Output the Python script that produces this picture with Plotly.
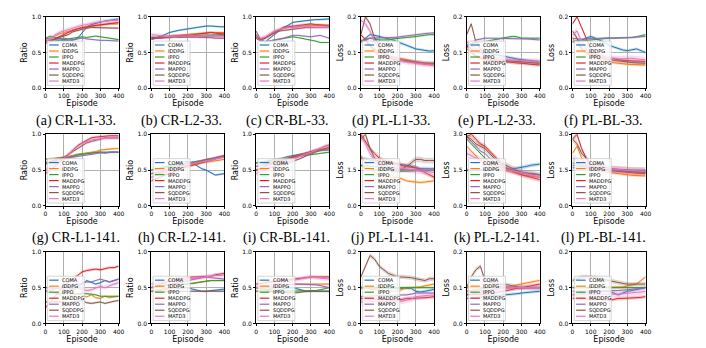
import plotly.graph_objects as go

EPISODES = [0, 25, 50, 75, 100, 125, 150, 175, 200, 225, 250, 275, 300, 325, 350, 375, 400]
ALGOS = ["COMA", "IDDPG", "IPPO", "MADDPG", "MAPPO", "SQDDPG", "MATD3"]
COLORS = ["#1f77b4", "#ff7f0e", "#2ca02c", "#d62728", "#9467bd", "#8c564b", "#e377c2"]

CAPTIONS = ["(a) CR-L1-33.", "(b) CR-L2-33.", "(c) CR-BL-33.", "(d) PL-L1-33.", "(e) PL-L2-33.", "(f) PL-BL-33.",
            "(g) CR-L1-141.", "(h) CR-L2-141.", "(i) CR-BL-141.", "(j) PL-L1-141.", "(k) PL-L2-141.", "(l) PL-BL-141."]
X_TICKS = [0, 100, 200, 300, 400]
RATIO_TICKS = [0.0, 0.5, 1.0]
LOSS_TICKS_SMALL = [0.0, 0.1, 0.2]
LOSS_TICKS_LARGE = [0.0, 1.5, 3.0]

# ---------------- row 1 ----------------
CR_L1_33 = {
    "COMA":   [0.67, 0.66, 0.66, 0.67, 0.67, 0.67, 0.67, 0.70, 0.78, 0.85, 0.89, 0.91, 0.93, 0.94, 0.95, 0.96, 0.97],
    "IDDPG":  [0.68, 0.70, 0.73, 0.76, 0.78, 0.80, 0.82, 0.84, 0.85, 0.86, 0.87, 0.88, 0.89, 0.89, 0.90, 0.90, 0.90],
    "IPPO":   [0.70, 0.73, 0.71, 0.69, 0.68, 0.69, 0.70, 0.71, 0.72, 0.71, 0.72, 0.73, 0.72, 0.71, 0.70, 0.69, 0.68],
    "MADDPG": [0.63, 0.66, 0.70, 0.73, 0.76, 0.79, 0.81, 0.83, 0.85, 0.86, 0.87, 0.88, 0.89, 0.90, 0.91, 0.91, 0.92],
    "MAPPO":  [0.70, 0.69, 0.68, 0.69, 0.70, 0.69, 0.68, 0.69, 0.70, 0.69, 0.68, 0.68, 0.67, 0.67, 0.67, 0.66, 0.66],
    "SQDDPG": [0.65, 0.67, 0.69, 0.71, 0.72, 0.75, 0.79, 0.81, 0.83, 0.84, 0.85, 0.85, 0.85, 0.85, 0.84, 0.84, 0.84],
    "MATD3":  [0.65, 0.70, 0.74, 0.78, 0.80, 0.83, 0.85, 0.87, 0.88, 0.89, 0.91, 0.92, 0.93, 0.94, 0.94, 0.95, 0.95],
}
CR_L2_33 = {
    "COMA":   [0.68, 0.70, 0.72, 0.75, 0.78, 0.80, 0.81, 0.82, 0.83, 0.85, 0.86, 0.87, 0.87, 0.87, 0.86, 0.86, 0.86],
    "IDDPG":  [0.70, 0.71, 0.72, 0.72, 0.73, 0.74, 0.74, 0.75, 0.75, 0.76, 0.76, 0.77, 0.77, 0.78, 0.78, 0.78, 0.78],
    "IPPO":   [0.70, 0.70, 0.71, 0.71, 0.72, 0.72, 0.72, 0.73, 0.72, 0.73, 0.74, 0.74, 0.74, 0.75, 0.75, 0.75, 0.75],
    "MADDPG": [0.70, 0.71, 0.72, 0.72, 0.72, 0.73, 0.73, 0.74, 0.74, 0.75, 0.76, 0.77, 0.78, 0.78, 0.77, 0.77, 0.76],
    "MAPPO":  [0.72, 0.71, 0.70, 0.71, 0.72, 0.72, 0.71, 0.72, 0.72, 0.72, 0.73, 0.72, 0.73, 0.73, 0.73, 0.74, 0.74],
    "SQDDPG": [0.70, 0.70, 0.71, 0.70, 0.71, 0.72, 0.72, 0.72, 0.72, 0.71, 0.72, 0.72, 0.71, 0.71, 0.70, 0.70, 0.70],
    "MATD3":  [0.75, 0.74, 0.73, 0.72, 0.72, 0.73, 0.73, 0.74, 0.74, 0.73, 0.73, 0.74, 0.73, 0.72, 0.72, 0.72, 0.72],
}
CR_BL_33 = {
    "COMA":   [0.70, 0.66, 0.65, 0.70, 0.75, 0.80, 0.85, 0.88, 0.92, 0.93, 0.94, 0.95, 0.95, 0.96, 0.96, 0.96, 0.97],
    "IDDPG":  [0.70, 0.68, 0.71, 0.76, 0.80, 0.82, 0.84, 0.85, 0.85, 0.86, 0.87, 0.87, 0.88, 0.88, 0.88, 0.87, 0.87],
    "IPPO":   [0.75, 0.68, 0.65, 0.66, 0.67, 0.68, 0.70, 0.71, 0.72, 0.71, 0.70, 0.69, 0.68, 0.66, 0.64, 0.64, 0.64],
    "MADDPG": [0.72, 0.68, 0.70, 0.74, 0.78, 0.82, 0.85, 0.86, 0.87, 0.88, 0.88, 0.89, 0.90, 0.89, 0.89, 0.88, 0.88],
    "MAPPO":  [0.75, 0.66, 0.65, 0.66, 0.67, 0.68, 0.70, 0.72, 0.74, 0.74, 0.73, 0.72, 0.72, 0.73, 0.74, 0.72, 0.70],
    "SQDDPG": [0.80, 0.68, 0.70, 0.74, 0.78, 0.80, 0.81, 0.82, 0.82, 0.83, 0.84, 0.85, 0.85, 0.85, 0.85, 0.85, 0.85],
    "MATD3":  [0.75, 0.70, 0.72, 0.76, 0.80, 0.82, 0.84, 0.85, 0.85, 0.86, 0.86, 0.86, 0.86, 0.86, 0.85, 0.85, 0.85],
}
PL_L1_33 = {
    "COMA":   [0.130, 0.140, 0.150, 0.148, 0.145, 0.142, 0.140, 0.135, 0.130, 0.125, 0.120, 0.115, 0.110, 0.108, 0.105, 0.104, 0.105],
    "IDDPG":  [0.135, 0.130, 0.120, 0.110, 0.100, 0.095, 0.090, 0.087, 0.085, 0.082, 0.078, 0.075, 0.073, 0.070, 0.068, 0.066, 0.065],
    "IPPO":   [0.130, 0.135, 0.140, 0.138, 0.135, 0.135, 0.135, 0.138, 0.140, 0.140, 0.142, 0.143, 0.145, 0.146, 0.148, 0.150, 0.150],
    "MADDPG": [0.150, 0.135, 0.120, 0.105, 0.090, 0.086, 0.083, 0.081, 0.080, 0.078, 0.075, 0.073, 0.070, 0.069, 0.068, 0.068, 0.068],
    "MAPPO":  [0.130, 0.138, 0.140, 0.140, 0.140, 0.140, 0.140, 0.142, 0.143, 0.145, 0.145, 0.147, 0.150, 0.152, 0.153, 0.154, 0.155],
    "SQDDPG": [0.150, 0.200, 0.180, 0.140, 0.120, 0.100, 0.090, 0.085, 0.080, 0.078, 0.076, 0.075, 0.073, 0.072, 0.071, 0.070, 0.070],
    "MATD3":  [0.190, 0.180, 0.160, 0.130, 0.110, 0.100, 0.090, 0.085, 0.080, 0.077, 0.074, 0.072, 0.070, 0.068, 0.067, 0.066, 0.065],
}
PL_L2_33 = {
    "COMA":   [0.120, 0.110, 0.100, 0.100, 0.100, 0.098, 0.095, 0.092, 0.090, 0.087, 0.085, 0.082, 0.080, 0.078, 0.077, 0.076, 0.075],
    "IDDPG":  [0.110, 0.100, 0.090, 0.086, 0.082, 0.080, 0.079, 0.078, 0.076, 0.075, 0.074, 0.073, 0.072, 0.071, 0.070, 0.070, 0.070],
    "IPPO":   [0.120, 0.125, 0.128, 0.130, 0.130, 0.133, 0.136, 0.139, 0.140, 0.143, 0.145, 0.144, 0.140, 0.140, 0.140, 0.140, 0.140],
    "MADDPG": [0.120, 0.100, 0.090, 0.085, 0.080, 0.078, 0.076, 0.075, 0.075, 0.073, 0.072, 0.071, 0.070, 0.068, 0.067, 0.066, 0.065],
    "MAPPO":  [0.120, 0.125, 0.135, 0.138, 0.140, 0.140, 0.140, 0.140, 0.140, 0.140, 0.140, 0.140, 0.140, 0.138, 0.137, 0.136, 0.135],
    "SQDDPG": [0.150, 0.180, 0.130, 0.110, 0.090, 0.085, 0.082, 0.080, 0.078, 0.077, 0.076, 0.075, 0.074, 0.073, 0.072, 0.071, 0.070],
    "MATD3":  [0.130, 0.120, 0.110, 0.100, 0.090, 0.086, 0.083, 0.080, 0.080, 0.079, 0.078, 0.078, 0.078, 0.077, 0.076, 0.076, 0.075],
}
PL_BL_33 = {
    "COMA":   [0.130, 0.132, 0.135, 0.140, 0.145, 0.140, 0.135, 0.128, 0.120, 0.115, 0.110, 0.107, 0.105, 0.108, 0.110, 0.105, 0.100],
    "IDDPG":  [0.140, 0.125, 0.110, 0.100, 0.090, 0.085, 0.080, 0.076, 0.073, 0.071, 0.070, 0.068, 0.067, 0.066, 0.066, 0.065, 0.065],
    "IPPO":   [0.130, 0.132, 0.133, 0.134, 0.135, 0.137, 0.138, 0.139, 0.140, 0.140, 0.140, 0.140, 0.140, 0.142, 0.144, 0.147, 0.150],
    "MADDPG": [0.180, 0.200, 0.170, 0.140, 0.110, 0.095, 0.090, 0.087, 0.085, 0.082, 0.080, 0.078, 0.077, 0.076, 0.075, 0.075, 0.075],
    "MAPPO":  [0.140, 0.138, 0.137, 0.138, 0.140, 0.139, 0.140, 0.140, 0.141, 0.140, 0.140, 0.141, 0.140, 0.142, 0.143, 0.144, 0.145],
    "SQDDPG": [0.160, 0.140, 0.110, 0.100, 0.095, 0.090, 0.085, 0.082, 0.080, 0.078, 0.076, 0.074, 0.073, 0.072, 0.071, 0.070, 0.070],
    "MATD3":  [0.150, 0.160, 0.130, 0.110, 0.100, 0.092, 0.090, 0.087, 0.085, 0.083, 0.082, 0.083, 0.085, 0.084, 0.082, 0.081, 0.080],
}
# ---------------- row 2 ----------------
CR_L1_141 = {
    "COMA":   [0.65, 0.66, 0.66, 0.67, 0.67, 0.68, 0.70, 0.72, 0.73, 0.74, 0.75, 0.75, 0.75, 0.74, 0.75, 0.75, 0.75],
    "IDDPG":  [0.65, 0.65, 0.66, 0.67, 0.68, 0.69, 0.70, 0.72, 0.73, 0.74, 0.75, 0.76, 0.78, 0.79, 0.79, 0.80, 0.80],
    "IPPO":   [0.58, 0.60, 0.62, 0.63, 0.65, 0.67, 0.69, 0.71, 0.72, 0.73, 0.74, 0.75, 0.75, 0.75, 0.75, 0.75, 0.75],
    "MADDPG": [0.45, 0.50, 0.55, 0.60, 0.65, 0.72, 0.78, 0.84, 0.88, 0.92, 0.95, 0.96, 0.97, 0.97, 0.98, 0.98, 0.98],
    "MAPPO":  [0.60, 0.61, 0.62, 0.64, 0.65, 0.67, 0.68, 0.70, 0.71, 0.72, 0.72, 0.73, 0.74, 0.74, 0.75, 0.75, 0.75],
    "SQDDPG": [0.60, 0.62, 0.64, 0.66, 0.68, 0.72, 0.76, 0.80, 0.84, 0.88, 0.90, 0.92, 0.94, 0.95, 0.95, 0.95, 0.95],
    "MATD3":  [0.50, 0.55, 0.58, 0.62, 0.66, 0.72, 0.78, 0.83, 0.87, 0.90, 0.92, 0.93, 0.94, 0.95, 0.95, 0.95, 0.95],
}
CR_L2_141 = {
    "COMA":   [0.50, 0.52, 0.54, 0.55, 0.56, 0.58, 0.60, 0.62, 0.62, 0.60, 0.56, 0.52, 0.50, 0.46, 0.43, 0.44, 0.45],
    "IDDPG":  [0.45, 0.46, 0.48, 0.50, 0.51, 0.52, 0.54, 0.55, 0.56, 0.57, 0.58, 0.60, 0.61, 0.62, 0.63, 0.64, 0.65],
    "IPPO":   [0.50, 0.51, 0.52, 0.54, 0.55, 0.56, 0.57, 0.58, 0.60, 0.61, 0.62, 0.64, 0.65, 0.66, 0.67, 0.68, 0.70],
    "MADDPG": [0.35, 0.38, 0.40, 0.43, 0.45, 0.48, 0.50, 0.53, 0.55, 0.57, 0.59, 0.61, 0.62, 0.64, 0.66, 0.68, 0.70],
    "MAPPO":  [0.40, 0.43, 0.45, 0.48, 0.50, 0.53, 0.55, 0.58, 0.60, 0.61, 0.61, 0.62, 0.62, 0.64, 0.66, 0.67, 0.68],
    "SQDDPG": [0.45, 0.46, 0.47, 0.48, 0.50, 0.52, 0.54, 0.56, 0.58, 0.60, 0.62, 0.64, 0.65, 0.66, 0.68, 0.69, 0.70],
    "MATD3":  [0.40, 0.42, 0.45, 0.48, 0.50, 0.52, 0.55, 0.57, 0.58, 0.59, 0.60, 0.61, 0.62, 0.64, 0.66, 0.67, 0.68],
}
CR_BL_141 = {
    "COMA":   [0.60, 0.61, 0.62, 0.64, 0.65, 0.66, 0.67, 0.69, 0.70, 0.72, 0.73, 0.74, 0.75, 0.77, 0.78, 0.79, 0.80],
    "IDDPG":  [0.55, 0.57, 0.59, 0.61, 0.62, 0.64, 0.66, 0.67, 0.68, 0.70, 0.72, 0.74, 0.75, 0.77, 0.78, 0.79, 0.80],
    "IPPO":   [0.60, 0.60, 0.61, 0.62, 0.62, 0.63, 0.65, 0.67, 0.68, 0.69, 0.70, 0.71, 0.72, 0.73, 0.74, 0.74, 0.75],
    "MADDPG": [0.50, 0.53, 0.55, 0.58, 0.60, 0.62, 0.64, 0.66, 0.68, 0.70, 0.72, 0.73, 0.75, 0.78, 0.80, 0.83, 0.85],
    "MAPPO":  [0.55, 0.56, 0.58, 0.59, 0.60, 0.61, 0.62, 0.64, 0.65, 0.68, 0.70, 0.72, 0.75, 0.76, 0.77, 0.78, 0.78],
    "SQDDPG": [0.50, 0.51, 0.52, 0.54, 0.55, 0.57, 0.58, 0.60, 0.62, 0.64, 0.67, 0.70, 0.72, 0.75, 0.78, 0.80, 0.82],
    "MATD3":  [0.45, 0.48, 0.50, 0.53, 0.55, 0.58, 0.60, 0.62, 0.65, 0.68, 0.70, 0.73, 0.75, 0.78, 0.80, 0.83, 0.85],
}
PL_L1_141 = {
    "COMA":   [2.00, 1.95, 1.92, 1.90, 1.90, 1.86, 1.82, 1.78, 1.75, 1.72, 1.70, 1.65, 1.58, 1.56, 1.56, 1.55, 1.55],
    "IDDPG":  [2.10, 1.80, 1.55, 1.40, 1.30, 1.25, 1.22, 1.20, 1.20, 1.12, 1.05, 1.02, 1.00, 0.98, 1.00, 1.02, 1.05],
    "IPPO":   [1.70, 1.60, 1.55, 1.50, 1.50, 1.48, 1.47, 1.46, 1.45, 1.45, 1.45, 1.45, 1.46, 1.47, 1.48, 1.49, 1.50],
    "MADDPG": [3.00, 2.70, 2.40, 2.20, 2.00, 1.90, 1.85, 1.78, 1.72, 1.68, 1.65, 1.62, 1.60, 1.50, 1.40, 1.30, 1.20],
    "MAPPO":  [1.70, 1.68, 1.65, 1.62, 1.60, 1.58, 1.56, 1.55, 1.55, 1.53, 1.52, 1.51, 1.50, 1.50, 1.50, 1.50, 1.50],
    "SQDDPG": [2.80, 3.00, 2.40, 2.00, 1.70, 1.60, 1.55, 1.52, 1.50, 1.55, 1.65, 1.80, 1.95, 1.95, 1.90, 1.90, 1.90],
    "MATD3":  [2.90, 2.60, 2.20, 1.90, 1.80, 1.70, 1.65, 1.62, 1.60, 1.58, 1.55, 1.52, 1.50, 1.47, 1.45, 1.42, 1.40],
}
PL_L2_141 = {
    "COMA":   [1.50, 1.50, 1.50, 1.50, 1.50, 1.50, 1.50, 1.50, 1.50, 1.52, 1.55, 1.58, 1.60, 1.65, 1.70, 1.72, 1.75],
    "IDDPG":  [2.50, 2.30, 2.10, 1.90, 1.80, 1.70, 1.60, 1.55, 1.50, 1.45, 1.40, 1.35, 1.30, 1.27, 1.25, 1.22, 1.20],
    "IPPO":   [2.80, 2.60, 2.40, 2.20, 2.00, 1.85, 1.75, 1.65, 1.60, 1.55, 1.50, 1.45, 1.40, 1.37, 1.35, 1.32, 1.30],
    "MADDPG": [2.90, 3.00, 2.80, 2.60, 2.50, 2.30, 2.10, 1.90, 1.70, 1.55, 1.45, 1.38, 1.30, 1.25, 1.20, 1.15, 1.10],
    "MAPPO":  [2.90, 2.70, 2.50, 2.30, 2.20, 2.00, 1.85, 1.75, 1.65, 1.55, 1.50, 1.45, 1.40, 1.37, 1.35, 1.32, 1.30],
    "SQDDPG": [2.90, 2.80, 2.60, 2.50, 2.40, 2.20, 2.00, 1.85, 1.75, 1.65, 1.55, 1.48, 1.40, 1.37, 1.35, 1.32, 1.30],
    "MATD3":  [2.20, 2.10, 2.00, 1.90, 1.80, 1.72, 1.65, 1.60, 1.55, 1.50, 1.45, 1.42, 1.40, 1.35, 1.30, 1.25, 1.20],
}
PL_BL_141 = {
    "COMA":   [1.60, 1.58, 1.57, 1.56, 1.55, 1.54, 1.52, 1.51, 1.50, 1.48, 1.47, 1.46, 1.45, 1.44, 1.42, 1.41, 1.40],
    "IDDPG":  [2.20, 2.50, 2.00, 1.70, 1.60, 1.50, 1.45, 1.42, 1.40, 1.37, 1.35, 1.32, 1.30, 1.28, 1.27, 1.26, 1.25],
    "IPPO":   [1.80, 1.75, 1.70, 1.65, 1.60, 1.57, 1.55, 1.52, 1.50, 1.49, 1.48, 1.47, 1.45, 1.44, 1.42, 1.41, 1.40],
    "MADDPG": [2.80, 3.00, 2.40, 2.00, 1.70, 1.62, 1.58, 1.54, 1.50, 1.47, 1.45, 1.43, 1.40, 1.38, 1.37, 1.36, 1.35],
    "MAPPO":  [1.70, 1.68, 1.65, 1.62, 1.60, 1.57, 1.55, 1.52, 1.50, 1.50, 1.50, 1.50, 1.50, 1.48, 1.47, 1.46, 1.45],
    "SQDDPG": [2.80, 2.60, 2.20, 2.00, 1.70, 1.80, 1.70, 1.62, 1.55, 1.55, 1.53, 1.52, 1.50, 1.50, 1.50, 1.50, 1.50],
    "MATD3":  [2.00, 1.90, 1.80, 1.75, 1.70, 1.65, 1.60, 1.57, 1.55, 1.53, 1.52, 1.51, 1.50, 1.48, 1.47, 1.46, 1.45],
}
# ---------------- row 3 ----------------
CR_L1_R3 = {
    "COMA":   [0.50, 0.50, 0.48, 0.50, 0.52, 0.50, 0.48, 0.52, 0.55, 0.60, 0.58, 0.55, 0.57, 0.60, 0.58, 0.60, 0.62],
    "IDDPG":  [0.45, 0.44, 0.42, 0.40, 0.42, 0.40, 0.38, 0.42, 0.40, 0.37, 0.40, 0.36, 0.35, 0.38, 0.36, 0.37, 0.38],
    "IPPO":   [0.45, 0.44, 0.43, 0.42, 0.43, 0.42, 0.42, 0.41, 0.42, 0.42, 0.41, 0.40, 0.38, 0.38, 0.38, 0.38, 0.38],
    "MADDPG": [0.22, 0.30, 0.38, 0.45, 0.52, 0.58, 0.63, 0.67, 0.72, 0.74, 0.75, 0.76, 0.75, 0.77, 0.78, 0.78, 0.80],
    "MAPPO":  [0.45, 0.47, 0.48, 0.50, 0.50, 0.52, 0.53, 0.55, 0.56, 0.58, 0.58, 0.60, 0.62, 0.60, 0.58, 0.60, 0.62],
    "SQDDPG": [0.30, 0.30, 0.31, 0.30, 0.30, 0.29, 0.30, 0.31, 0.32, 0.29, 0.28, 0.29, 0.30, 0.28, 0.30, 0.31, 0.32],
    "MATD3":  [0.45, 0.47, 0.48, 0.50, 0.48, 0.46, 0.48, 0.50, 0.48, 0.46, 0.47, 0.50, 0.52, 0.50, 0.53, 0.55, 0.57],
}
CR_L2_R3 = {
    "COMA":   [0.45, 0.46, 0.47, 0.48, 0.50, 0.50, 0.49, 0.50, 0.50, 0.48, 0.46, 0.45, 0.45, 0.46, 0.47, 0.48, 0.48],
    "IDDPG":  [0.45, 0.46, 0.47, 0.48, 0.50, 0.51, 0.52, 0.54, 0.55, 0.56, 0.57, 0.58, 0.60, 0.60, 0.60, 0.60, 0.60],
    "IPPO":   [0.50, 0.51, 0.52, 0.53, 0.55, 0.55, 0.55, 0.55, 0.55, 0.56, 0.57, 0.58, 0.60, 0.60, 0.60, 0.60, 0.60],
    "MADDPG": [0.50, 0.52, 0.54, 0.57, 0.60, 0.61, 0.62, 0.63, 0.65, 0.65, 0.65, 0.65, 0.65, 0.66, 0.68, 0.69, 0.70],
    "MAPPO":  [0.50, 0.51, 0.52, 0.53, 0.55, 0.56, 0.57, 0.58, 0.60, 0.61, 0.62, 0.63, 0.65, 0.64, 0.63, 0.62, 0.62],
    "SQDDPG": [0.45, 0.45, 0.45, 0.45, 0.45, 0.45, 0.45, 0.45, 0.45, 0.45, 0.45, 0.45, 0.45, 0.45, 0.45, 0.45, 0.45],
    "MATD3":  [0.55, 0.56, 0.57, 0.58, 0.60, 0.60, 0.61, 0.61, 0.62, 0.63, 0.63, 0.64, 0.65, 0.66, 0.67, 0.67, 0.68],
}
CR_BL_R3 = {
    "COMA":   [0.50, 0.48, 0.46, 0.45, 0.45, 0.47, 0.48, 0.50, 0.50, 0.48, 0.46, 0.45, 0.45, 0.45, 0.45, 0.45, 0.45],
    "IDDPG":  [0.45, 0.46, 0.47, 0.48, 0.50, 0.51, 0.52, 0.54, 0.55, 0.55, 0.55, 0.55, 0.55, 0.55, 0.55, 0.55, 0.55],
    "IPPO":   [0.50, 0.49, 0.47, 0.46, 0.45, 0.45, 0.45, 0.45, 0.45, 0.45, 0.45, 0.45, 0.45, 0.46, 0.47, 0.48, 0.50],
    "MADDPG": [0.55, 0.56, 0.57, 0.58, 0.60, 0.60, 0.61, 0.61, 0.62, 0.63, 0.63, 0.64, 0.65, 0.65, 0.65, 0.65, 0.65],
    "MAPPO":  [0.50, 0.50, 0.50, 0.50, 0.50, 0.51, 0.52, 0.54, 0.55, 0.55, 0.55, 0.55, 0.55, 0.54, 0.53, 0.51, 0.50],
    "SQDDPG": [0.45, 0.45, 0.45, 0.45, 0.45, 0.44, 0.43, 0.43, 0.42, 0.43, 0.44, 0.45, 0.45, 0.45, 0.45, 0.45, 0.45],
    "MATD3":  [0.50, 0.51, 0.52, 0.54, 0.55, 0.56, 0.57, 0.59, 0.60, 0.61, 0.62, 0.63, 0.65, 0.64, 0.63, 0.62, 0.62],
}
PL_L1_R3 = {
    "COMA":   [0.100, 0.100, 0.100, 0.100, 0.100, 0.100, 0.100, 0.100, 0.100, 0.100, 0.100, 0.098, 0.090, 0.088, 0.090, 0.093, 0.095],
    "IDDPG":  [0.100, 0.100, 0.098, 0.095, 0.092, 0.090, 0.090, 0.090, 0.090, 0.095, 0.100, 0.100, 0.100, 0.102, 0.105, 0.108, 0.110],
    "IPPO":   [0.100, 0.100, 0.100, 0.100, 0.100, 0.100, 0.100, 0.100, 0.100, 0.100, 0.100, 0.100, 0.100, 0.100, 0.100, 0.100, 0.100],
    "MADDPG": [0.070, 0.070, 0.070, 0.068, 0.067, 0.066, 0.065, 0.065, 0.065, 0.067, 0.070, 0.070, 0.070, 0.071, 0.072, 0.073, 0.075],
    "MAPPO":  [0.075, 0.075, 0.076, 0.077, 0.078, 0.078, 0.079, 0.080, 0.080, 0.080, 0.080, 0.082, 0.085, 0.085, 0.085, 0.085, 0.085],
    "SQDDPG": [0.130, 0.160, 0.190, 0.180, 0.160, 0.150, 0.140, 0.135, 0.130, 0.130, 0.130, 0.128, 0.125, 0.122, 0.120, 0.125, 0.125],
    "MATD3":  [0.060, 0.060, 0.060, 0.060, 0.060, 0.060, 0.060, 0.060, 0.060, 0.062, 0.065, 0.068, 0.075, 0.077, 0.078, 0.079, 0.080],
}
PL_L2_R3 = {
    "COMA":   [0.070, 0.071, 0.072, 0.073, 0.075, 0.076, 0.077, 0.078, 0.080, 0.081, 0.082, 0.083, 0.085, 0.086, 0.087, 0.088, 0.090],
    "IDDPG":  [0.100, 0.100, 0.100, 0.100, 0.100, 0.100, 0.100, 0.100, 0.100, 0.102, 0.105, 0.108, 0.110, 0.112, 0.115, 0.118, 0.120],
    "IPPO":   [0.090, 0.092, 0.094, 0.096, 0.100, 0.100, 0.100, 0.100, 0.100, 0.100, 0.100, 0.100, 0.100, 0.100, 0.100, 0.100, 0.100],
    "MADDPG": [0.080, 0.080, 0.080, 0.080, 0.080, 0.082, 0.085, 0.088, 0.090, 0.092, 0.095, 0.098, 0.100, 0.102, 0.105, 0.108, 0.110],
    "MAPPO":  [0.080, 0.082, 0.085, 0.088, 0.090, 0.092, 0.095, 0.098, 0.100, 0.100, 0.100, 0.100, 0.100, 0.100, 0.100, 0.100, 0.100],
    "SQDDPG": [0.100, 0.130, 0.150, 0.160, 0.120, 0.115, 0.112, 0.110, 0.110, 0.108, 0.105, 0.102, 0.100, 0.100, 0.100, 0.100, 0.100],
    "MATD3":  [0.090, 0.090, 0.090, 0.090, 0.090, 0.092, 0.095, 0.098, 0.100, 0.100, 0.100, 0.100, 0.100, 0.100, 0.100, 0.100, 0.100],
}
PL_BL_R3 = {
    "COMA":   [0.080, 0.082, 0.085, 0.088, 0.090, 0.090, 0.090, 0.090, 0.090, 0.085, 0.080, 0.085, 0.090, 0.092, 0.095, 0.098, 0.100],
    "IDDPG":  [0.100, 0.100, 0.100, 0.100, 0.100, 0.100, 0.100, 0.100, 0.100, 0.100, 0.100, 0.102, 0.105, 0.108, 0.110, 0.120, 0.130],
    "IPPO":   [0.100, 0.100, 0.100, 0.100, 0.100, 0.100, 0.100, 0.100, 0.100, 0.100, 0.100, 0.100, 0.100, 0.100, 0.100, 0.100, 0.100],
    "MADDPG": [0.070, 0.070, 0.070, 0.070, 0.070, 0.068, 0.067, 0.066, 0.065, 0.067, 0.070, 0.070, 0.070, 0.071, 0.072, 0.073, 0.075],
    "MAPPO":  [0.090, 0.090, 0.090, 0.090, 0.090, 0.090, 0.090, 0.090, 0.090, 0.091, 0.092, 0.093, 0.095, 0.096, 0.097, 0.098, 0.100],
    "SQDDPG": [0.120, 0.125, 0.130, 0.130, 0.130, 0.128, 0.125, 0.122, 0.120, 0.118, 0.115, 0.112, 0.110, 0.110, 0.110, 0.110, 0.110],
    "MATD3":  [0.080, 0.080, 0.080, 0.080, 0.080, 0.080, 0.080, 0.080, 0.080, 0.081, 0.082, 0.083, 0.085, 0.086, 0.087, 0.088, 0.090],
}

# band half-widths per algorithm (COMA, IDDPG, IPPO, MADDPG, MAPPO, SQDDPG, MATD3)
SPREAD_RATIO = [0.015, 0.015, 0.012, 0.02, 0.012, 0.015, 0.03]
SPREAD_LOSS_SMALL = [0.004, 0.004, 0.003, 0.005, 0.003, 0.006, 0.008]
SPREAD_LOSS_LARGE = [0.08, 0.06, 0.05, 0.10, 0.05, 0.12, 0.15]

PANELS = [
    (CR_L1_33, "Ratio", RATIO_TICKS, SPREAD_RATIO), (CR_L2_33, "Ratio", RATIO_TICKS, SPREAD_RATIO),
    (CR_BL_33, "Ratio", RATIO_TICKS, SPREAD_RATIO), (PL_L1_33, "Loss", LOSS_TICKS_SMALL, SPREAD_LOSS_SMALL),
    (PL_L2_33, "Loss", LOSS_TICKS_SMALL, SPREAD_LOSS_SMALL), (PL_BL_33, "Loss", LOSS_TICKS_SMALL, SPREAD_LOSS_SMALL),
    (CR_L1_141, "Ratio", RATIO_TICKS, SPREAD_RATIO), (CR_L2_141, "Ratio", RATIO_TICKS, SPREAD_RATIO),
    (CR_BL_141, "Ratio", RATIO_TICKS, SPREAD_RATIO), (PL_L1_141, "Loss", LOSS_TICKS_LARGE, SPREAD_LOSS_LARGE),
    (PL_L2_141, "Loss", LOSS_TICKS_LARGE, SPREAD_LOSS_LARGE), (PL_BL_141, "Loss", LOSS_TICKS_LARGE, SPREAD_LOSS_LARGE),
    (CR_L1_R3, "Ratio", RATIO_TICKS, SPREAD_RATIO), (CR_L2_R3, "Ratio", RATIO_TICKS, SPREAD_RATIO),
    (CR_BL_R3, "Ratio", RATIO_TICKS, SPREAD_RATIO), (PL_L1_R3, "Loss", LOSS_TICKS_SMALL, SPREAD_LOSS_SMALL),
    (PL_L2_R3, "Loss", LOSS_TICKS_SMALL, SPREAD_LOSS_SMALL), (PL_BL_R3, "Loss", LOSS_TICKS_SMALL, SPREAD_LOSS_SMALL),
]

# ---------------- layout geometry ----------------
FIG_W, FIG_H = 706, 348
COL_LEFT = [44, 151, 257, 363, 470, 577]
ROW_TOP = [13, 133, 253]
PW, PH = 74, 73


def rgba(hex_color, a):
    h = hex_color.lstrip("#")
    return f"rgba({int(h[0:2], 16)},{int(h[2:4], 16)},{int(h[4:6], 16)},{a})"


fig = go.Figure()
layout = dict(
    width=FIG_W, height=FIG_H, autosize=False,
    margin=dict(l=0, r=0, t=0, b=0),
    paper_bgcolor="white", plot_bgcolor="white",
    showlegend=False,
    font=dict(family="DejaVu Sans", color="black"),
)
shapes = []
annotations = []

for idx, (data, ylabel, yticks, spread) in enumerate(PANELS):
    r, c = divmod(idx, 6)
    k = idx + 1
    xs = "" if k == 1 else str(k)
    x0 = COL_LEFT[c] / FIG_W
    x1 = (COL_LEFT[c] + PW) / FIG_W
    y1 = 1 - ROW_TOP[r] / FIG_H
    y0 = 1 - (ROW_TOP[r] + PH) / FIG_H
    layout[f"xaxis{xs}"] = dict(
        domain=[x0, x1], anchor=f"y{xs}", range=[0, 400], tickvals=X_TICKS,
        showgrid=True, gridcolor="#b0b0b0", gridwidth=1, zeroline=False,
        showline=True, linecolor="black", linewidth=1, mirror=True,
        ticks="outside", ticklen=2, tickwidth=0.8, tickcolor="black",
        tickfont=dict(size=6, family="DejaVu Sans"),
        title=dict(text="Episode", font=dict(size=8, family="DejaVu Sans"), standoff=1),
    )
    layout[f"yaxis{xs}"] = dict(
        domain=[y0, y1], anchor=f"x{xs}", range=[yticks[0], yticks[-1]], tickvals=yticks,
        tickformat=".1f",
        showgrid=True, gridcolor="#b0b0b0", gridwidth=1, zeroline=False,
        showline=True, linecolor="black", linewidth=1, mirror=True,
        ticks="outside", ticklen=2, tickwidth=0.8, tickcolor="black",
        tickfont=dict(size=6, family="DejaVu Sans"),
        title=dict(text=ylabel, font=dict(size=8, family="DejaVu Sans"), standoff=2),
    )
    for j, name in enumerate(ALGOS):
        vals = data[name]
        lower = [v - spread[j] for v in vals]
        upper = [v + spread[j] for v in vals]
        fig.add_trace(go.Scatter(x=EPISODES, y=lower, xaxis=f"x{xs}", yaxis=f"y{xs}", mode="lines",
                                 line=dict(width=0, color=COLORS[j]), hoverinfo="skip", showlegend=False))
        fig.add_trace(go.Scatter(x=EPISODES, y=upper, xaxis=f"x{xs}", yaxis=f"y{xs}", mode="lines",
                                 line=dict(width=0, color=COLORS[j]), fill="tonexty",
                                 fillcolor=rgba(COLORS[j], 0.25), hoverinfo="skip", showlegend=False))
        fig.add_trace(go.Scatter(x=EPISODES, y=vals, xaxis=f"x{xs}", yaxis=f"y{xs}", mode="lines",
                                 name=name, line=dict(width=1, color=COLORS[j]), showlegend=False))

    # in-panel legend (box, colour samples, labels)
    xd, yd = f"x{xs} domain", f"y{xs} domain"
    shapes.append(dict(type="rect", xref=xd, yref=yd, x0=0.025, x1=0.53, y0=0.04, y1=0.66,
                       fillcolor="rgba(255,255,255,0.8)", line=dict(color="#cccccc", width=0.8), layer="above"))
    for j, name in enumerate(ALGOS):
        yy = 0.605 - j * 0.084
        shapes.append(dict(type="line", xref=xd, yref=yd, x0=0.05, x1=0.18, y0=yy, y1=yy,
                           line=dict(color=COLORS[j], width=1.2), layer="above"))
        annotations.append(dict(xref=xd, yref=yd, x=0.20, y=yy, text=name, showarrow=False,
                                xanchor="left", yanchor="middle",
                                font=dict(size=5, family="DejaVu Sans", color="black")))

    if idx < len(CAPTIONS):
        cy = 1 - (ROW_TOP[r] + PH + 33) / FIG_H
        annotations.append(dict(xref="paper", yref="paper", x=(COL_LEFT[c] + PW / 2 - 6) / FIG_W, y=cy,
                                text=CAPTIONS[idx], showarrow=False, xanchor="center", yanchor="middle",
                                font=dict(size=14, family="Liberation Serif", color="black")))

layout["shapes"] = shapes
layout["annotations"] = annotations
fig.update_layout(**layout)
fig.write_html("out.html")
